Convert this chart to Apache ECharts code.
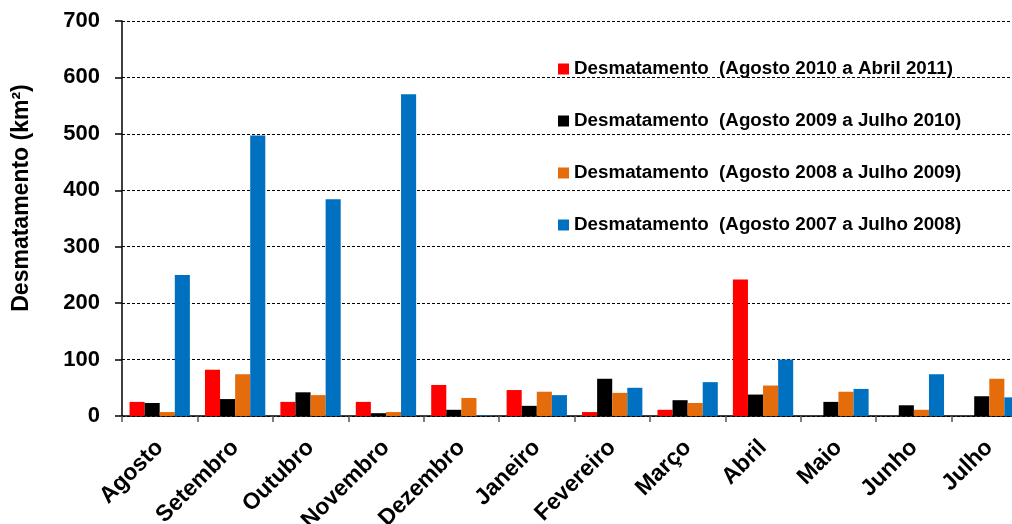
<!DOCTYPE html>
<html>
<head>
<meta charset="utf-8">
<script src="https://cdn.jsdelivr.net/npm/echarts@6/dist/echarts.min.js"></script>
<style>
html,body{margin:0;padding:0;background:#fff;}
#chart{width:1012px;height:524px;}
</style>
</head>
<body>
<div id="chart"></div>
<script>
const categories = ['Agosto','Setembro','Outubro','Novembro','Dezembro','Janeiro','Fevereiro','Março','Abril','Maio','Junho','Julho'];
const seriesNames = [
  'Desmatamento  (Agosto 2010 a Abril 2011)',
  'Desmatamento  (Agosto 2009 a Julho 2010)',
  'Desmatamento  (Agosto 2008 a Julho 2009)',
  'Desmatamento  (Agosto 2007 a Julho 2008)'
];
const s2010_2011 = [25, 82, 25, 25, 55, 46, 7, 11, 242, null, null, null];
const s2009_2010 = [23, 30, 42, 5, 11, 18, 66, 28, 38, 25, 19, 35];
const s2008_2009 = [7, 74, 37, 7, 32, 43, 41, 23, 54, 43, 11, 66];
const s2007_2008 = [250, 497, 384, 570, 1, 37, 50, 60, 100, 48, 74, 33];
const yTicks = [0, 100, 200, 300, 400, 500, 600, 700];
const yTitle = 'Desmatamento (km²)';
const colors = ['#FF0000', '#000000', '#E46C0A', '#0070C0'];

const FONT = 'Arial, "Liberation Sans", sans-serif';
const chart = echarts.init(document.getElementById('chart'));
const dataArr = [s2010_2011, s2009_2010, s2008_2009, s2007_2008];

chart.setOption({
  animation: false,
  color: colors,
  textStyle: { fontFamily: FONT },
  grid: { left: 122, top: 21, width: 905, height: 395, containLabel: false, outerBoundsMode: 'none' },
  graphic: [{
    type: 'text',
    x: 22, y: 198,
    rotation: Math.PI / 2,
    style: {
      text: yTitle, fontFamily: FONT, fontSize: 23, fontWeight: 'bold', fill: '#000',
      align: 'center', verticalAlign: 'middle'
    }
  }],
  legend: {
    orient: 'vertical',
    left: 553,
    top: 54,
    itemWidth: 11,
    itemHeight: 11,
    itemGap: 32,
    icon: 'rect',
    textStyle: { fontFamily: FONT, fontSize: 18.8, fontWeight: 'bold', color: '#000', lineHeight: 20 },
    data: seriesNames
  },
  xAxis: {
    type: 'category',
    data: categories,
    boundaryGap: true,
    axisLine: { show: true, lineStyle: { color: '#000', width: 1.5 } },
    axisTick: { show: true, length: 6, lineStyle: { color: '#555', width: 1.5 } },
    axisLabel: {
      interval: 0, rotate: 45, margin: 28,
      fontFamily: FONT, fontSize: 23, fontWeight: 'bold', color: '#000'
    }
  },
  yAxis: {
    type: 'value',
    min: 0, max: 700, interval: 100,
    axisLine: { show: true, lineStyle: { color: '#000', width: 1.5 } },
    axisTick: { show: true, length: 7, lineStyle: { color: '#000', width: 1.5 } },
    axisLabel: {
      margin: 22, fontFamily: FONT, fontSize: 22, fontWeight: 'bold', color: '#000',
      formatter: function (v) { return yTicks.indexOf(v) >= 0 ? String(v) : ''; }
    },
    splitLine: { show: true, lineStyle: { color: '#000', type: [3, 2], width: 1 } }
  },
  series: seriesNames.map((n, i) => ({
    name: n,
    type: 'bar',
    data: dataArr[i],
    barGap: '0%',
    barCategoryGap: '20%',
    itemStyle: { color: colors[i] }
  }))
});
</script>
</body>
</html>
